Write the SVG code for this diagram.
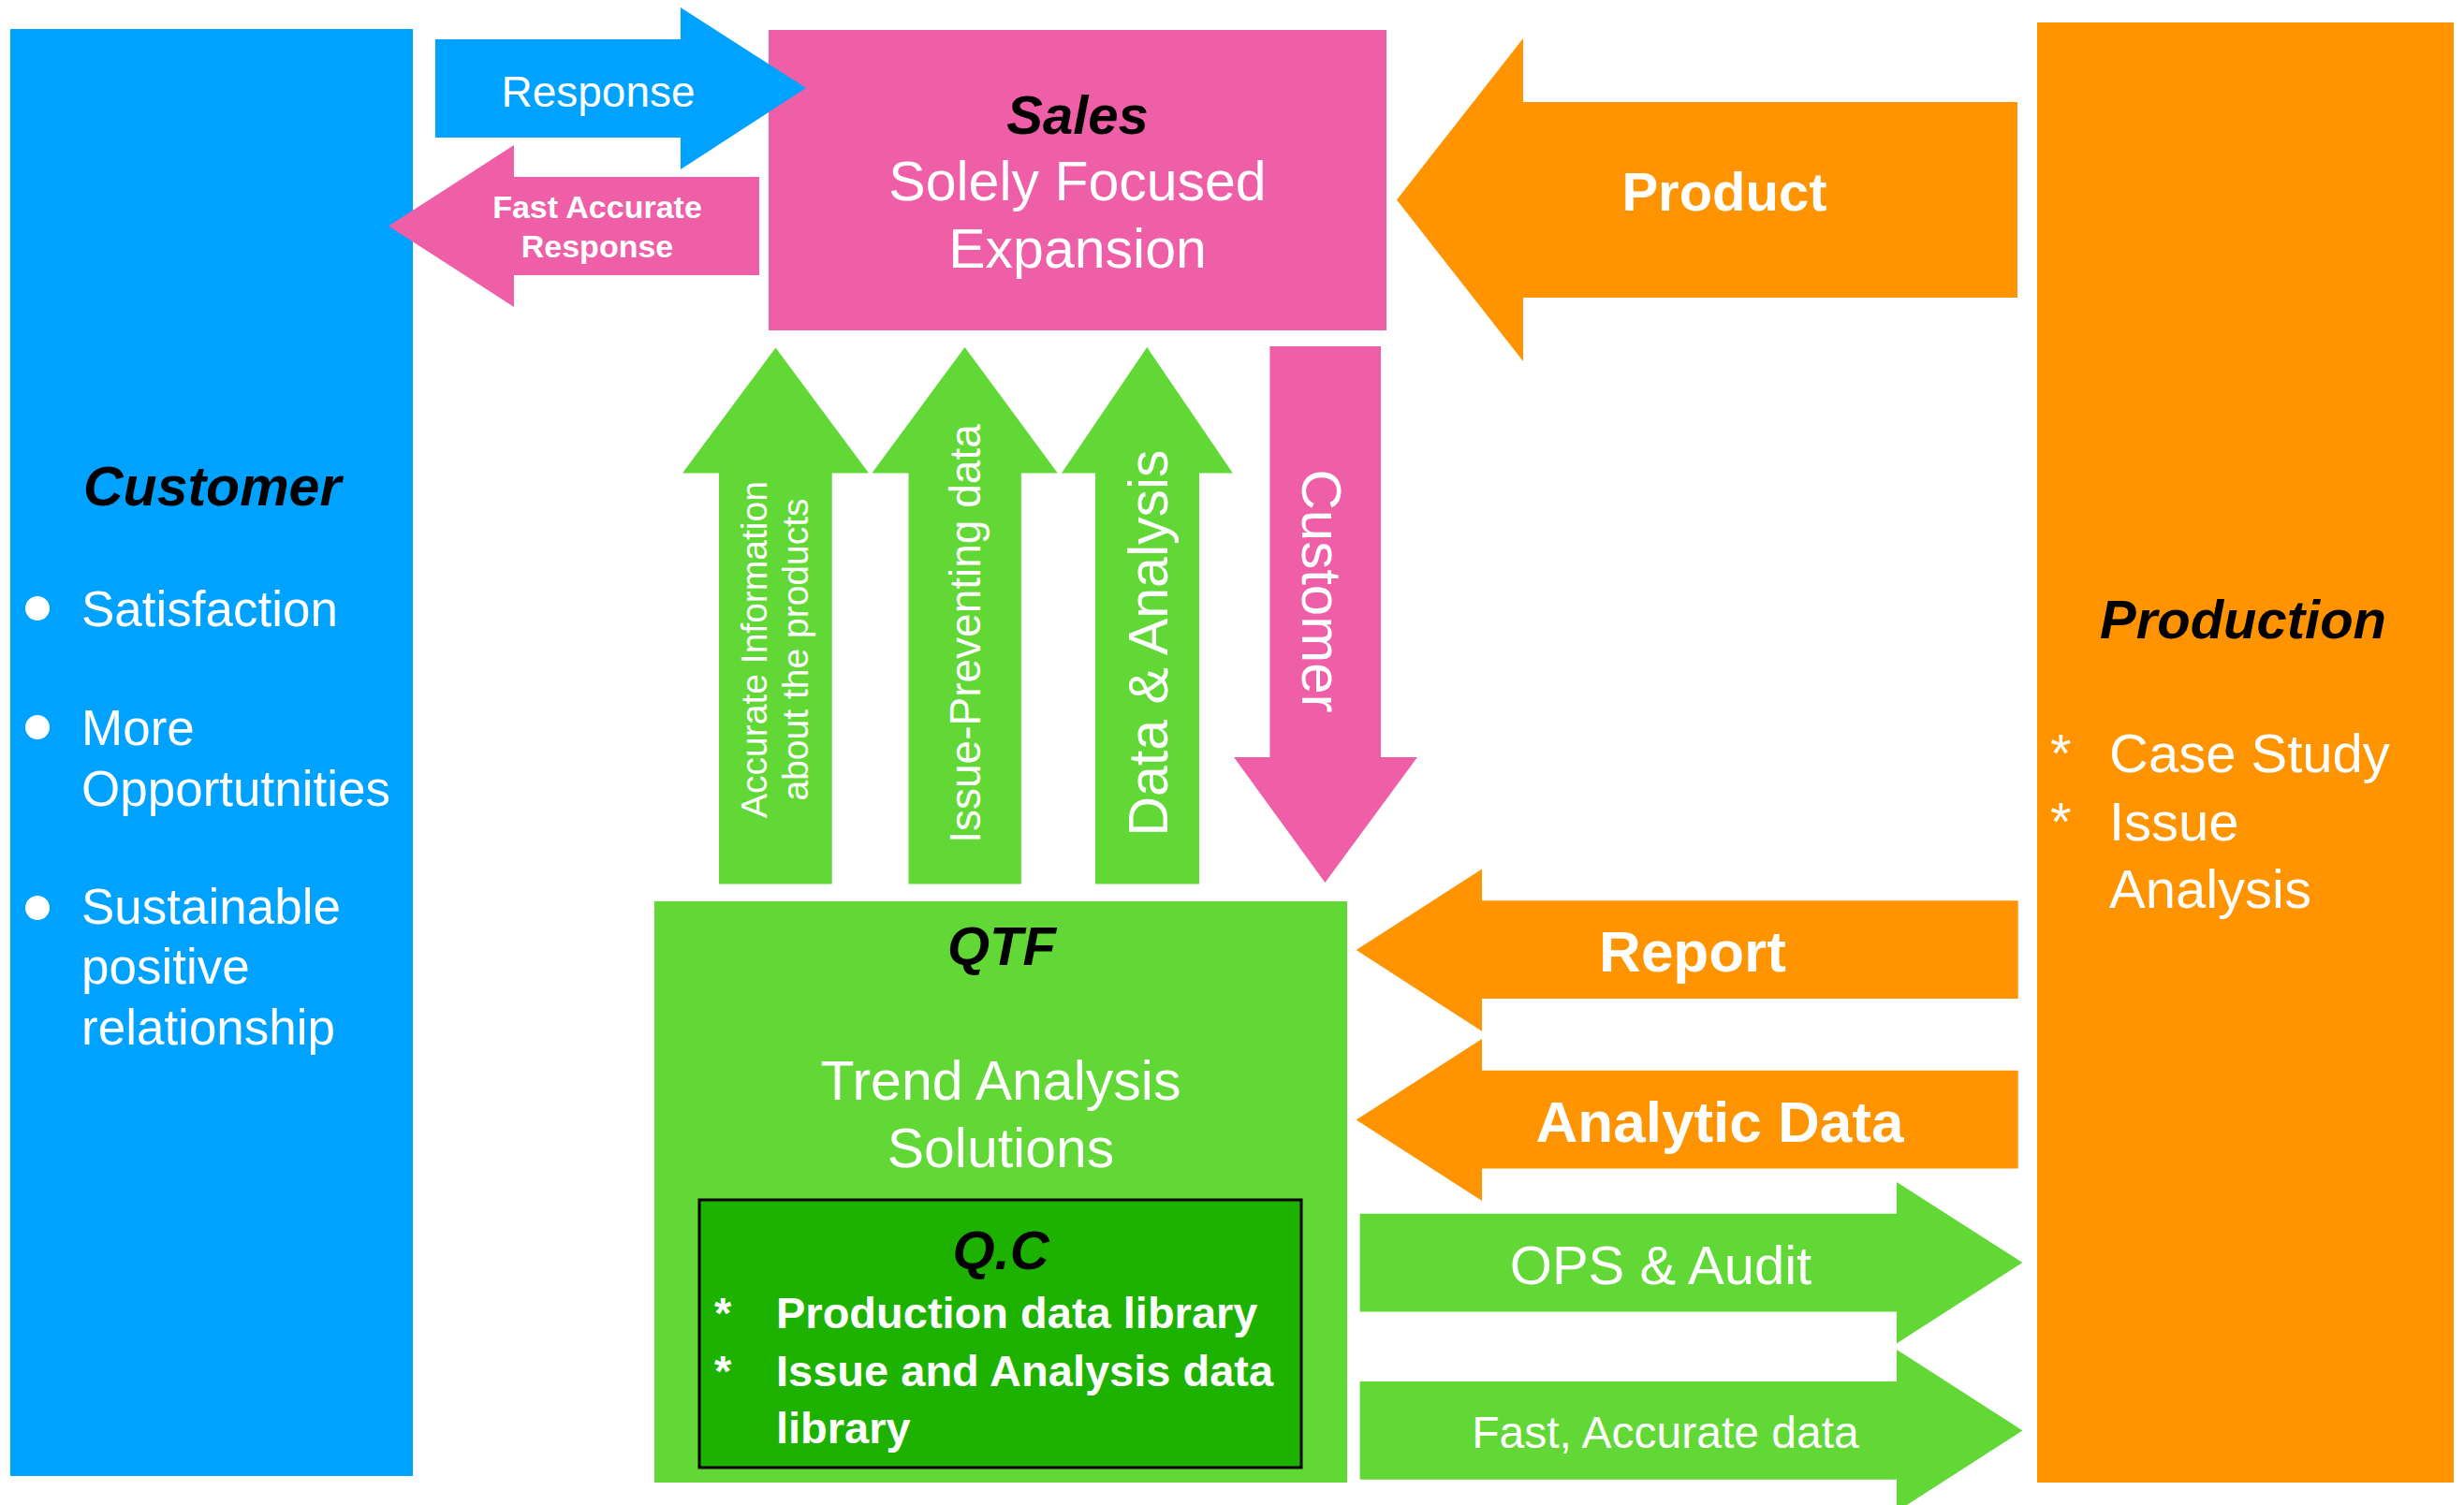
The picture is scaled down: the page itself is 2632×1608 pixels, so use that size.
<svg xmlns="http://www.w3.org/2000/svg" width="2632" height="1608" viewBox="0 0 2632 1608">
<style>
text{font-family:"Liberation Sans",Arial,Helvetica,sans-serif;}
.w{fill:#ffffff;}
.k{fill:#000000;}
.c{text-anchor:middle;}
.bi{font-weight:bold;font-style:italic;}
.b{font-weight:bold;}
.blue{fill:#00A2FF;}
.pink{fill:#EF5FA7;}
.orange{fill:#FF9300;}
.green{fill:#61D836;}
.dgreen{fill:#1DB100;stroke:#000000;stroke-width:3;}
</style>
<rect width="2632" height="1608" fill="#ffffff"/>

<g id="customer">
<rect class="blue" x="11" y="31" width="430" height="1546"/>
<text class="k bi" x="89" y="540" font-size="59">Customer</text>
<circle class="w" cx="40" cy="650" r="13"/>
<circle class="w" cx="40" cy="777" r="13"/>
<circle class="w" cx="40" cy="970" r="13"/>
<text class="w" font-size="53"><tspan x="87" y="669">Satisfaction</tspan><tspan x="87" y="796">More</tspan><tspan x="87" y="861">Opportutnities</tspan><tspan x="87" y="987">Sustainable</tspan><tspan x="87" y="1051">positive</tspan><tspan x="87" y="1116">relationship</tspan></text>
</g>

<g id="sales">
<rect class="pink" x="821" y="32" width="660" height="321"/>
<text class="k bi c" x="1151" y="143" font-size="58">Sales</text>
<text class="w c" font-size="59"><tspan x="1151" y="214">Solely Focused</tspan><tspan x="1151" y="286">Expansion</tspan></text>
</g>

<g id="production">
<rect class="orange" x="2176" y="24" width="445" height="1560"/>
<text class="k bi c" x="2396" y="682" font-size="58">Production</text>
<text class="w" font-size="58"><tspan x="2190" y="825">*</tspan><tspan x="2253" y="825">Case Study</tspan><tspan x="2190" y="898">*</tspan><tspan x="2253" y="898">Issue</tspan><tspan x="2253" y="970">Analysis</tspan></text>
</g>

<g id="qtf">
<rect class="green" x="699" y="963" width="740" height="621"/>
<text class="k bi c" x="1070" y="1031" font-size="58">QTF</text>
<text class="w c" font-size="59"><tspan x="1069" y="1175">Trend Analysis</tspan><tspan x="1069" y="1247">Solutions</tspan></text>
</g>

<g id="qc">
<rect class="dgreen" x="747" y="1282" width="643" height="286"/>
<text class="k bi c" x="1069" y="1356" font-size="58">Q.C</text>
<text class="w b" font-size="47"><tspan x="763" y="1419">*</tspan><tspan x="829" y="1419">Production data library</tspan><tspan x="763" y="1481">*</tspan><tspan x="829" y="1481">Issue and Analysis data</tspan><tspan x="829" y="1542">library</tspan></text>
</g>

<g id="connectors">
<g id="arrow-response">
<polygon class="blue" points="465,42 727,42 727,8 861,94 727,181 727,147 465,147"/>
<text class="w c" x="639" y="114" font-size="46">Response</text>
</g>
<g id="arrow-fast-accurate-response">
<polygon class="pink" points="811,189 549,189 549,155 415,241.5 549,328 549,294 811,294"/>
<text class="w b c" font-size="34"><tspan x="638" y="233">Fast Accurate</tspan><tspan x="638" y="275">Response</tspan></text>
</g>
<g id="arrow-product">
<polygon class="orange" points="2155,109 1627,109 1627,41 1492,213.5 1627,386 1627,318 2155,318"/>
<text class="w b c" x="1842" y="225" font-size="58">Product</text>
</g>
<g id="arrow-accurate-info">
<polygon class="green" points="768,944.5 768,505.5 729,505.5 828.5,371.5 928,505.5 888.7,505.5 888.7,944.5"/>
<text class="w c" font-size="39" transform="translate(819,694) rotate(-90)"><tspan x="0" y="0">Accurate Information</tspan><tspan x="0" y="44">about the products</tspan></text>
</g>
<g id="arrow-issue-preventing">
<polygon class="green" points="970.5,944.5 970.5,505.5 931.4,505.5 1030.6,371 1129.8,505.5 1090.8,505.5 1090.8,944.5"/>
<text class="w c" font-size="46" transform="translate(1047,677) rotate(-90)">Issue-Preventing data</text>
</g>
<g id="arrow-data-analysis">
<polygon class="green" points="1170,944.5 1170,505.5 1134,505.5 1225.2,371 1316.8,505.5 1281,505.5 1281,944.5"/>
<text class="w c" font-size="59" transform="translate(1247,687) rotate(-90)">Data &amp; Analysis</text>
</g>
<g id="arrow-customer">
<polygon class="pink" points="1356.4,370 1475,370 1475,809 1514,809 1415.4,943 1318,809 1356.4,809"/>
<text class="w c" font-size="60" transform="translate(1391,631.5) rotate(90)">Customer</text>
</g>
<g id="arrow-report">
<polygon class="orange" points="2155.7,962.3 1583,962.3 1583,928.4 1448.7,1015 1583,1101.8 1583,1067 2155.7,1067"/>
<text class="w b c" x="1808" y="1038" font-size="62">Report</text>
</g>
<g id="arrow-analytic-data">
<polygon class="orange" points="2155.7,1143.8 1583,1143.8 1583,1110 1448.7,1196.6 1583,1283 1583,1248.5 2155.7,1248.5"/>
<text class="w b c" x="1837" y="1220" font-size="62">Analytic Data</text>
</g>
<g id="arrow-ops-audit">
<polygon class="green" points="1452.6,1296.8 2026,1296.8 2026,1263 2160.4,1349 2026,1435.4 2026,1401.6 1452.6,1401.6"/>
<text class="w c" x="1774" y="1372" font-size="58">OPS &amp; Audit</text>
</g>
<g id="arrow-fast-accurate-data">
<polygon class="green" points="1452.6,1476 2026,1476 2026,1442 2160.4,1528.4 2026,1615 2026,1580.8 1452.6,1580.8"/>
<text class="w c" x="1779" y="1547" font-size="48">Fast, Accurate data</text>
</g>
</g>
</svg>
